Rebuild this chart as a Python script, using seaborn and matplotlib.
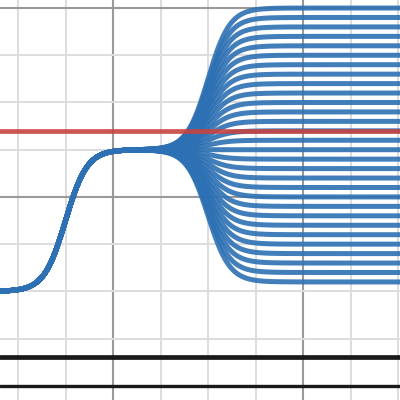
import numpy as np
import pandas as pd
import matplotlib
matplotlib.use("Agg")
import matplotlib.pyplot as plt
import seaborn as sns

# ---- data ----
start_level = -2.0          # left asymptote of blue curves
plateau_level = 1.0         # middle plateau
first_center = -1.0         # centre of first rise
second_center = 2.0         # centre of fan-out
steepness = 4.4
final_levels = [-1.8, -1.6, -1.4, -1.2, -1.0, -0.8, -0.6, -0.4, -0.2, 0.0,
                0.2, 0.4, 0.6, 0.8, 1.0, 1.2, 1.4, 1.6, 1.8, 2.0,
                2.2, 2.4, 2.6, 2.8, 3.0, 3.2, 3.4, 3.6, 3.8, 4.0]
red_level = 1.4
black_levels = [-3.4, -4.0]
black_widths = [3.4, 2.4]

x_min, x_max = -2.38, 6.04
y_min, y_max = -4.30, 4.17

def sig(t):
    return 1.0 / (1.0 + np.exp(-steepness * t))

xs = np.linspace(x_min - 0.1, x_max + 0.1, 800)
rows = []
for lvl in final_levels:
    ys = (start_level + (plateau_level - start_level) * sig(xs - first_center)
          + (lvl - plateau_level) * sig(xs - second_center))
    rows.append(pd.DataFrame({"x": xs, "y": ys, "level": str(lvl)}))
df = pd.concat(rows, ignore_index=True)

sns.set_style("white")
fig = plt.figure(figsize=(4, 4), dpi=100)
ax = fig.add_axes([0, 0, 1, 1])

# grid
for v in np.arange(-3, 7):
    major = (v % 4 == 0)
    ax.axvline(v, color="#999999" if major else "#dddddd", lw=1.5 if major else 1.4, zorder=0)
for v in np.arange(-5, 5):
    major = (v % 4 == 0)
    ax.axhline(v, color="#999999" if major else "#dddddd", lw=1.5 if major else 1.4, zorder=0)

sns.lineplot(data=df, x="x", y="y", hue="level", units="level", estimator=None,
             palette=["#2d70b3"] * len(final_levels), lw=3.6, alpha=0.9,
             legend=False, ax=ax, sort=False, zorder=2)

ax.axhline(red_level, color="#c74440", lw=3.4, alpha=0.9, zorder=3)
for lvl, w in zip(black_levels, black_widths):
    ax.axhline(lvl, color="#1a1a1a", lw=w, zorder=4)

ax.set_xlim(x_min, x_max)
ax.set_ylim(y_min, y_max)
ax.set_axis_off()
fig.savefig("out.png", dpi=100)
